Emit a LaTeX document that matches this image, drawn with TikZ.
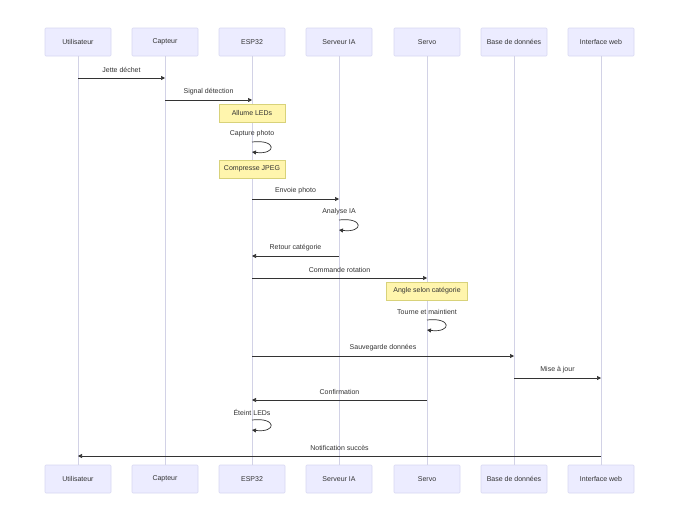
\documentclass[tikz,border=0pt]{standalone}
\usepackage{fontspec}
\setmainfont{Liberation Sans}
\usetikzlibrary{arrows.meta}
\definecolor{actfill}{HTML}{ECECFF}
\definecolor{actdraw}{HTML}{D8D8F2}
\definecolor{lifeln}{HTML}{D2D2E6}
\definecolor{notefill}{HTML}{FFF5AD}
\definecolor{notedraw}{HTML}{D8D27A}
\definecolor{txt}{HTML}{333333}
\tikzset{
  actor/.style={draw=actdraw, fill=actfill, line width=0.6pt, minimum width=66pt, minimum height=28pt, inner sep=0pt, font=\fontsize{7}{8}\selectfont, text=txt, rounded corners=1pt},
  note/.style={draw=notedraw, fill=notefill, line width=0.6pt, minimum height=18pt, inner sep=0pt, font=\fontsize{7}{8}\selectfont, text=txt},
  lifeline/.style={draw=lifeln, line width=0.8pt},
  msg/.style={draw=txt, line width=0.7pt, -{Triangle[length=4pt,width=4pt]}},
  lbl/.style={font=\fontsize{7}{8}\selectfont, text=txt, inner sep=0pt}
}
\begin{document}
\begin{tikzpicture}[x=1pt,y=-1pt]
\useasboundingbox[fill=white] (0,0) rectangle (680,522);
% actors top
\node[actor] (uT) at (78,42) {Utilisateur};
\node[actor] (cT) at (165,42) {Capteur};
\node[actor] (eT) at (252,42) {ESP32};
\node[actor] (sT) at (339,42) {Serveur IA};
\node[actor] (vT) at (427,42) {Servo};
\node[actor] (bT) at (514,42) {Base de données};
\node[actor] (wT) at (601,42) {Interface web};
% actors bottom
\node[actor] (uB) at (78,479) {Utilisateur};
\node[actor] (cB) at (165,479) {Capteur};
\node[actor] (eB) at (252,479) {ESP32};
\node[actor] (sB) at (339,479) {Serveur IA};
\node[actor] (vB) at (427,479) {Servo};
\node[actor] (bB) at (514,479) {Base de données};
\node[actor] (wB) at (601,479) {Interface web};
% lifelines
\foreach \a in {u,c,e,s,v,b,w} {
  \draw[lifeline] (\a T.south) -- (\a B.north);
}
% notes
\node[note, minimum width=66pt] (n1) at (252,113) {Allume LEDs};
\node[note, minimum width=66pt] (n2) at (252,169) {Compresse JPEG};
\node[note, minimum width=81pt] (n3) at (427,291) {Angle selon catégorie};
% messages
\draw[msg] (uT |- 0,78) -- (cT |- 0,78) node[lbl, midway, above=5pt] {Jette déchet};
\draw[msg] (cT |- 0,100) -- (eT |- 0,100) node[lbl, midway, above=5pt] {Signal détection};
\node[lbl] (l1) at (252,134) {Capture photo};
\draw[msg] (eT |- 0,142) .. controls (277,139) and (277,155) .. (eT |- 0,152);
\draw[msg] (eT |- 0,199) -- (sT |- 0,199) node[lbl, midway, above=5pt] {Envoie photo};
\node[lbl] (l2) at (339,212) {Analyse IA};
\draw[msg] (sT |- 0,220) .. controls (364,217) and (364,233) .. (sT |- 0,230);
\draw[msg] (sT |- 0,256) -- (eT |- 0,256) node[lbl, midway, above=5pt] {Retour catégorie};
\draw[msg] (eT |- 0,278) -- (vT |- 0,278) node[lbl, midway, above=5pt] {Commande rotation};
\node[lbl] (l3) at (427,312) {Tourne et maintient};
\draw[msg] (vT |- 0,320) .. controls (452,317) and (452,333) .. (vT |- 0,330);
\draw[msg] (eT |- 0,356) -- (bT |- 0,356) node[lbl, midway, above=5pt] {Sauvegarde données};
\draw[msg] (bT |- 0,378) -- (wT |- 0,378) node[lbl, midway, above=5pt] {Mise à jour};
\draw[msg] (vT |- 0,400) -- (eT |- 0,400) node[lbl, midway, above=5pt] {Confirmation};
\node[lbl] (l4) at (252,412) {Éteint LEDs};
\draw[msg] (eT |- 0,420) .. controls (277,417) and (277,433) .. (eT |- 0,430);
\draw[msg] (wT |- 0,456) -- (uT |- 0,456) node[lbl, midway, above=5pt] {Notification succès};
\end{tikzpicture}
\end{document}
